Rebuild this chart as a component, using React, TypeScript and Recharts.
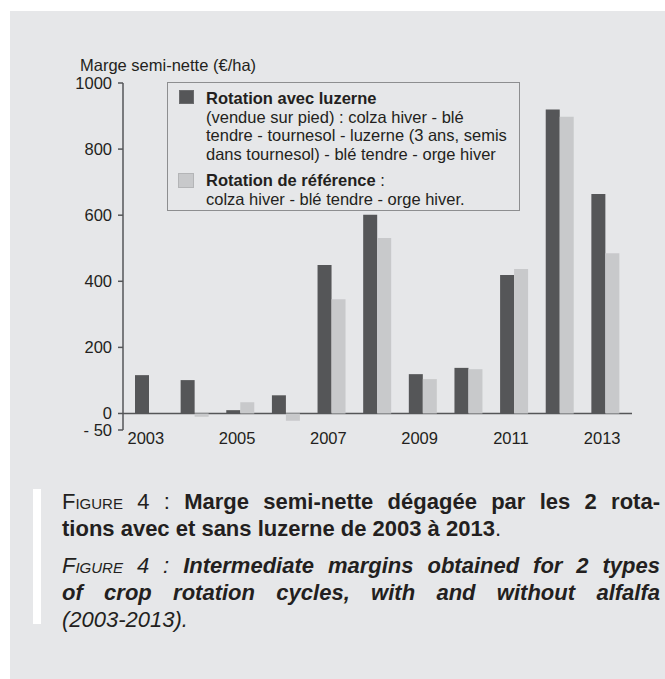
import { BarChart, Bar, XAxis, YAxis, CartesianGrid, Legend } from 'recharts';

const years = ['2003', '2004', '2005', '2006', '2007', '2008', '2009', '2010', '2011', '2012', '2013'];
const avecLuzerne = [116, 101, 10, 55, 449, 601, 119, 138, 419, 920, 664];
const reference = [null, -10, 34, -22, 346, 531, 104, 134, 437, 898, 485];
const yTicks = [-50, 0, 200, 400, 600, 800, 1000];

const DARK = '#555658';
const LIGHT = '#c8c9cb';
const INK = '#231f20';
const FONT = '"Liberation Sans", Arial, Helvetica, sans-serif';

const data = years.map((year, i) => ({
  year,
  luzerne: avecLuzerne[i],
  reference: reference[i],
}));

function LegendBox() {
  const line = { height: 18.7, lineHeight: '18.7px', whiteSpace: 'nowrap' as const };
  return (
    <div
      style={{
        width: 353,
        height: 129,
        boxSizing: 'border-box',
        border: '1.5px solid #8d8e90',
        position: 'relative',
        fontFamily: FONT,
        fontSize: 16.5,
        color: INK,
      }}
    >
      <div style={{ position: 'absolute', left: 11, top: 7, width: 15, height: 14, background: DARK, border: '1px solid #6a6b6d', boxSizing: 'border-box' }} />
      <div style={{ position: 'absolute', left: 38, top: 6 }}>
        <div style={{ ...line, fontWeight: 'bold' }}>Rotation avec luzerne</div>
        <div style={line}>(vendue sur pied) : colza hiver - blé</div>
        <div style={line}>tendre - tournesol - luzerne (3 ans, semis</div>
        <div style={line}>dans tournesol) - blé tendre - orge hiver</div>
      </div>
      <div style={{ position: 'absolute', left: 10, top: 90, width: 16, height: 15, background: LIGHT, border: '1px solid #b4b5b7', boxSizing: 'border-box' }} />
      <div style={{ position: 'absolute', left: 38, top: 88 }}>
        <div style={line}>
          <b>Rotation de référence</b> :
        </div>
        <div style={line}>colza hiver - blé tendre - orge hiver.</div>
      </div>
    </div>
  );
}

function Caption() {
  const row = {
    height: 27,
    lineHeight: '27px',
    textAlign: 'justify' as const,
    textAlignLast: 'justify' as const,
    whiteSpace: 'nowrap' as const,
  };
  return (
    <div style={{ position: 'absolute', left: 62, top: 488, width: 598, fontFamily: FONT, fontSize: 22, color: INK }}>
      <div style={{ ...row, whiteSpace: 'normal' }}>
        <span style={{ fontVariant: 'small-caps' }}>Figure 4</span> : <b>Marge semi-nette dégagée par les 2 rota-</b>
      </div>
      <div style={{ ...row, textAlignLast: 'left' }}>
        <b>tions avec et sans luzerne de 2003 à 2013</b>.
      </div>
      <div style={{ height: 10 }} />
      <div style={{ ...row, whiteSpace: 'normal', fontStyle: 'italic' }}>
        <span style={{ fontVariant: 'small-caps' }}>Figure 4</span> : <b>Intermediate margins obtained for 2 types</b>
      </div>
      <div style={{ ...row, whiteSpace: 'normal', fontStyle: 'italic' }}>
        <b>of crop rotation cycles, with and without alfalfa</b>
      </div>
      <div style={{ ...row, textAlignLast: 'left', fontStyle: 'italic' }}>(2003-2013).</div>
    </div>
  );
}

export default function App() {
  return (
    <div style={{ position: 'absolute', left: 0, top: 0, width: 665, height: 679, background: '#ffffff', overflow: 'hidden' }}>
      <div style={{ position: 'absolute', left: 10, top: 11, width: 655, height: 668, background: '#e6e7e9' }} />
      <div style={{ position: 'absolute', left: 33, top: 489, width: 8, height: 135, background: '#ffffff' }} />
      <div style={{ position: 'absolute', left: 80, top: 57, fontFamily: FONT, fontSize: 16.5, color: INK, lineHeight: '16px', height: 16 }}>
        Marge semi-nette (€/ha)
      </div>
      <div style={{ position: 'absolute', left: 0, top: 0 }}>
        <BarChart
          width={665}
          height={460}
          data={data}
          margin={{ top: 83, right: 33, bottom: 0, left: 0 }}
          barSize={14}
          barGap={0}
          style={{ fontFamily: FONT }}
        >
          <CartesianGrid
            vertical={false}
            horizontalValues={[0]}
            stroke="#555658"
            strokeWidth={1.5}
          />
          <XAxis
            dataKey="year"
            interval={1}
            axisLine={false}
            tickLine={false}
            tickSize={0}
            tickMargin={2}
            height={30}
            padding={{ left: 3, right: 4 }}
            tick={{ fill: INK, fontSize: 16.5, dx: -3 }}
          />
          <YAxis
            domain={[-50, 1000]}
            ticks={yTicks}
            interval={0}
            width={123}
            tickSize={5}
            tickMargin={6}
            stroke="#555658"
            strokeWidth={1.5}
            tick={{ fill: INK, fontSize: 16.5 }}
            tickFormatter={(v: number) => (v < 0 ? `- ${Math.abs(v)}` : `${v}`)}
          />
          <Legend
            layout="vertical"
            align="center"
            verticalAlign="middle"
            wrapperStyle={{ left: 167, top: 82, width: 353 }}
            content={() => <LegendBox />}
          />
          <Bar dataKey="luzerne" name="Rotation avec luzerne" fill={DARK} isAnimationActive={false} />
          <Bar dataKey="reference" name="Rotation de référence" fill={LIGHT} isAnimationActive={false} />
        </BarChart>
      </div>
      <Caption />
    </div>
  );
}
